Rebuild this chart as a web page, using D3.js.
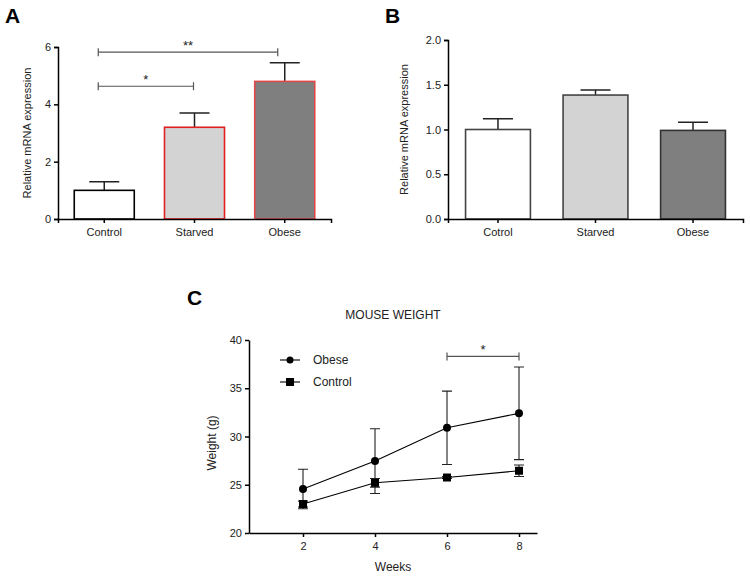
<!DOCTYPE html>
<html>
<head>
<meta charset="utf-8">
<script src="https://cdn.jsdelivr.net/npm/d3@7"></script>
<style>
  body { margin: 0; background: #fff; }
  svg { display: block; font-family: "Liberation Sans", Arial, sans-serif; }
  .axis path, .axis line { stroke: #000; stroke-width: 1.5px; }
  .axis text { font-size: 11px; fill: #222; }
</style>
</head>
<body>
<div id="chart"></div>
<script>
// Panel A data
const catsA = ["Control", "Starved", "Obese"];
const meanA = [1.0, 3.2, 4.8];
const errA = [0.3, 0.5, 0.65];
const ticksA = [0, 2, 4, 6];
const sigA = [
  { from: "Control", to: "Starved", y: 4.63, label: "*" },
  { from: "Control", to: "Obese", y: 5.82, label: "**" }
];

// Panel B data
const catsB = ["Cotrol", "Starved", "Obese"];
const meanB = [1.0, 1.385, 0.99];
const errB = [0.12, 0.055, 0.09];
const ticksB = [0, 0.5, 1.0, 1.5, 2.0];

// Panel C data
const weeks = [2, 4, 6, 8];
const obese = [24.56, 27.45, 30.9, 32.4];
const obeseSd = [2.05, 3.35, 3.8, 4.8];
const control = [23.0, 25.2, 25.75, 26.45];
const controlSd = [0.3, 0.45, 0.1, 0.6];
const ticksC = [20, 25, 30, 35, 40];

const fills = ["#ffffff", "#d3d3d3", "#7f7f7f"];

const svg = d3.select("#chart").append("svg")
  .attr("width", 750).attr("height", 577);

function panelLabel(x, y, t) {
  svg.append("text").attr("x", x).attr("y", y)
    .attr("font-size", 21).attr("font-weight", "bold").text(t);
}

function barPanel(opt) {
  const g = svg.append("g");
  const x = d3.scaleBand().domain(opt.cats).range([opt.x0, opt.x1]).paddingInner(0.335).paddingOuter(0.18);
  const y = d3.scaleLinear().domain(opt.ydom).range([opt.y0, opt.y1]);

  const rows = opt.cats.map((c, i) => ({ c: c, v: opt.mean[i], e: opt.err[i], i: i }));

  // error bars (upper only)
  const capW = 30;
  g.selectAll(".eb").data(rows).enter().append("path")
    .attr("d", d => {
      const cx = x(d.c) + x.bandwidth() / 2;
      return `M${cx},${y(d.v)}V${y(d.v + d.e)}M${cx - capW / 2},${y(d.v + d.e)}H${cx + capW / 2}`;
    })
    .attr("stroke", "#222").attr("stroke-width", 1.5).attr("fill", "none");

  g.selectAll(".bar").data(rows).enter().append("rect")
    .attr("x", d => x(d.c))
    .attr("y", d => y(d.v))
    .attr("width", x.bandwidth())
    .attr("height", d => y(0) - y(d.v))
    .attr("fill", d => fills[d.i])
    .attr("stroke", d => opt.strokes[d.i])
    .attr("stroke-width", 1.6);

  g.append("g").attr("class", "axis")
    .attr("transform", `translate(${opt.x0},0)`)
    .call(d3.axisLeft(y).tickValues(opt.ticks).tickFormat(opt.fmt).tickSizeOuter(0).tickSize(4));

  g.append("g").attr("class", "axis")
    .attr("transform", `translate(0,${opt.y0})`)
    .call(d3.axisBottom(x).tickSizeOuter(0).tickSize(4))
    .call(a => a.selectAll("text").attr("font-size", 11.5).attr("dy", "0.9em"));

  g.append("text")
    .attr("transform", `translate(${opt.labelX},${(opt.y0 + opt.y1) / 2}) rotate(-90)`)
    .attr("text-anchor", "middle").attr("font-size", 11).attr("fill", "#222")
    .text("Relative mRNA expression");

  if (opt.sig) {
    opt.sig.forEach(s => {
      const xa = x(s.from) + x.bandwidth() / 2 - 6;
      const xb = x(s.to) + x.bandwidth() / 2 - (s.to === "Obese" ? 7 : 1);
      const yy = y(s.y);
      g.append("path")
        .attr("d", `M${xa},${yy - 4}V${yy + 4}M${xa},${yy}H${xb}M${xb},${yy - 4}V${yy + 4}`)
        .attr("stroke", "#555").attr("stroke-width", 1.2).attr("fill", "none");
      g.append("text").attr("x", (xa + xb) / 2).attr("y", yy - 2)
        .attr("text-anchor", "middle").attr("font-size", 13).attr("fill", "#222")
        .text(s.label);
    });
  }
}

panelLabel(5, 23, "A");
barPanel({
  cats: catsA, mean: meanA, err: errA, ticks: ticksA, fmt: d3.format("d"),
  ydom: [0, 6], x0: 58, x1: 331, y0: 219, y1: 47, labelX: 31,
  strokes: ["#000", "#e02020", "#e04848"], sig: sigA
});

panelLabel(385, 23, "B");
barPanel({
  cats: catsB, mean: meanB, err: errB, ticks: ticksB, fmt: d3.format(".1f"),
  ydom: [0, 2], x0: 448, x1: 743, y0: 219, y1: 40, labelX: 408,
  strokes: ["#444", "#444", "#333"]
});

// Panel C
panelLabel(187, 305, "C");
const gc = svg.append("g");
const xC = d3.scaleLinear().domain([0.5, 8.5]).range([249, 537]);
const yC = d3.scaleLinear().domain([20, 40]).range([533, 340]);

gc.append("g").attr("class", "axis")
  .attr("transform", "translate(249,0)")
  .call(d3.axisLeft(yC).tickValues(ticksC).tickSize(4).tickSizeOuter(0))
  .call(a => a.selectAll("text").attr("font-size", 12));
gc.append("g").attr("class", "axis")
  .attr("transform", "translate(0,533)")
  .call(d3.axisBottom(xC).tickValues(weeks).tickSize(4).tickSizeOuter(0))
  .call(a => a.selectAll("text").attr("font-size", 12).attr("dy", "0.9em"));

gc.append("text").attr("x", 393).attr("y", 319).attr("text-anchor", "middle")
  .attr("font-size", 12).attr("fill", "#222").text("MOUSE WEIGHT");
gc.append("text").attr("x", 393).attr("y", 571).attr("text-anchor", "middle")
  .attr("font-size", 12).attr("fill", "#222").text("Weeks");
gc.append("text").attr("transform", "translate(216,443) rotate(-90)")
  .attr("text-anchor", "middle").attr("font-size", 12).attr("fill", "#222").text("Weight (g)");

const series = [
  { name: "Obese", vals: obese, sd: obeseSd, shape: "circle" },
  { name: "Control", vals: control, sd: controlSd, shape: "square" }
];
const line = d3.line().x(d => xC(d.w)).y(d => yC(d.v));
const capC = 10;
series.forEach(s => {
  const pts = weeks.map((w, i) => ({ w: w, v: s.vals[i], e: s.sd[i] }));
  gc.append("g").selectAll("path").data(pts).enter().append("path")
    .attr("d", d => {
      const cx = xC(d.w), t = yC(d.v + d.e), b = yC(d.v - d.e);
      return `M${cx},${t}V${b}M${cx - capC / 2},${t}H${cx + capC / 2}M${cx - capC / 2},${b}H${cx + capC / 2}`;
    })
    .attr("stroke", "#222").attr("stroke-width", 1.1).attr("fill", "none");
  gc.append("path").datum(pts).attr("d", line)
    .attr("stroke", "#000").attr("stroke-width", 1.1).attr("fill", "none");
  const m = gc.append("g").selectAll(".m").data(pts).enter();
  if (s.shape === "circle") {
    m.append("circle").attr("cx", d => xC(d.w)).attr("cy", d => yC(d.v)).attr("r", 4).attr("fill", "#000");
  } else {
    m.append("rect").attr("x", d => xC(d.w) - 4).attr("y", d => yC(d.v) - 4)
      .attr("width", 8).attr("height", 8).attr("fill", "#000");
  }
});

// legend
series.forEach((s, i) => {
  const ly = 360 + i * 22;
  gc.append("line").attr("x1", 280).attr("x2", 300).attr("y1", ly).attr("y2", ly)
    .attr("stroke", "#000").attr("stroke-width", 1.1);
  if (s.shape === "circle") {
    gc.append("circle").attr("cx", 290).attr("cy", ly).attr("r", 3.5).attr("fill", "#000");
  } else {
    gc.append("rect").attr("x", 286).attr("y", ly - 4).attr("width", 8).attr("height", 8).attr("fill", "#000");
  }
  gc.append("text").attr("x", 313).attr("y", ly + 4).attr("font-size", 12).attr("fill", "#222").text(s.name);
});

// significance bracket weeks 6-8
const sx1 = xC(6), sx2 = xC(8), sy = yC(38.3);
gc.append("path")
  .attr("d", `M${sx1},${sy - 4}V${sy + 4}M${sx1},${sy}H${sx2}M${sx2},${sy - 4}V${sy + 4}`)
  .attr("stroke", "#555").attr("stroke-width", 1.2).attr("fill", "none");
gc.append("text").attr("x", (sx1 + sx2) / 2).attr("y", sy - 2).attr("text-anchor", "middle")
  .attr("font-size", 13).attr("fill", "#222").text("*");
</script>
</body>
</html>
